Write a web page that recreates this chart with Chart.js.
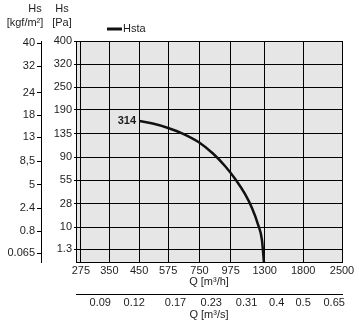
<!DOCTYPE html>
<html>
<head>
<meta charset="utf-8">
<script src="https://cdn.jsdelivr.net/npm/chart.js@4.4.1/dist/chart.umd.min.js"></script>
<style>
  html, body { margin: 0; padding: 0; background: #fff; }
  #wrap { width: 359px; height: 326px; position: relative; }
</style>
</head>
<body>
<div id="wrap"><canvas id="c"></canvas></div>
<script>
// Airflow ticks, m³/h (logarithmic axis)
const Q_H_TICKS = [275, 350, 450, 575, 750, 975, 1300, 1800, 2500];
// The same axis in m³/s
const Q_S_TICKS = [0.09, 0.12, 0.17, 0.23, 0.31, 0.4, 0.5, 0.65];
// Static pressure ticks, Pa (square-root axis)
const PA_TICKS = [1.3, 10, 28, 55, 90, 135, 190, 250, 320, 400];
// Static pressure ticks, kgf/m²
const KGF_TICKS = [0.065, 0.8, 2.4, 5, 8.5, 13, 18, 24, 32, 40];
const KGF_LABELS = ['0.065', '0.8', '2.4', '5', '8,5', '13', '18', '24', '32', '40'];

// Hsta curve: airflow (m³/h) and static pressure (Pa)
const FLOW = [450, 505, 575, 653, 748, 840, 930, 1020, 1101, 1168, 1228, 1271, 1292];
const HSTA = [162.8, 156.9, 147.1, 134.6, 117.0, 96.4, 75.5, 55.1, 37.9, 23.9, 11.8, 3.96, 0];
const CURVE_TAG = '314';

const PA_PER_KGF = 9.80665;
const Q_MIN = 264, Q_MAX = 2500;
const PA_MAX = 400;

const FONT = '"Liberation Sans", Arial, Helvetica, sans-serif';
const INK = '#1e1e1e';
Chart.defaults.font.family = FONT;
Chart.defaults.font.size = 11;
Chart.defaults.color = INK;

// Square-root value axis (pressure grows with the square of airflow)
class SqrtScale extends Chart.LinearScale {
  getPixelForValue(value) {
    if (value === null || value === undefined) return NaN;
    const lo = Math.sqrt(this.min), hi = Math.sqrt(this.max);
    return this.getPixelForDecimal((Math.sqrt(Math.max(0, value)) - lo) / (hi - lo));
  }
  getValueForPixel(pixel) {
    const lo = Math.sqrt(this.min), hi = Math.sqrt(this.max);
    const r = lo + this.getDecimalForPixel(pixel) * (hi - lo);
    return r * r;
  }
}
SqrtScale.id = 'sqrt';
SqrtScale.defaults = Chart.LinearScale.defaults;
Chart.register(SqrtScale);

const fixedTicks = list => scale => { scale.ticks = list.map(v => ({ value: v })); };

const decorations = {
  id: 'decorations',
  beforeDraw(chart) {
    const { ctx, chartArea: a } = chart;
    ctx.save();
    ctx.fillStyle = '#e6e6e6';
    ctx.fillRect(a.left, a.top, a.right - a.left, a.bottom - a.top);
    ctx.restore();
  },
  afterDraw(chart) {
    const { ctx } = chart;
    const ds = chart.data.datasets[0];
    const first = chart.getDatasetMeta(0).data[0];
    ctx.save();
    ctx.fillStyle = INK;
    ctx.font = '11px ' + FONT;
    ctx.textBaseline = 'middle';

    // axis headings above the two pressure scales
    ctx.textAlign = 'center';
    ctx.fillText('Hs', 35, 9);
    ctx.fillText('[kgf/m²]', 25, 23);
    ctx.fillText('Hs', 62, 9);
    ctx.fillText('[Pa]', 62, 23);

    // legend
    ctx.strokeStyle = ds.borderColor;
    ctx.lineWidth = 3;
    ctx.beginPath();
    ctx.moveTo(107, 29);
    ctx.lineTo(122, 29);
    ctx.stroke();
    ctx.textAlign = 'left';
    ctx.fillText(ds.label, 123, 29);

    // curve tag at the start of the line
    ctx.font = 'bold 11px ' + FONT;
    ctx.textAlign = 'right';
    ctx.fillText(CURVE_TAG, first.x - 3, first.y);
    ctx.restore();
  }
};

new Chart(document.getElementById('c'), {
  type: 'line',
  data: {
    datasets: [{
      label: 'Hsta',
      data: FLOW.map((q, i) => ({ x: q, y: HSTA[i] })),
      borderColor: '#111',
      borderWidth: 2.5,
      pointRadius: 0,
      cubicInterpolationMode: 'monotone',
      xAxisID: 'x',
      yAxisID: 'y'
    }]
  },
  options: {
    responsive: true,
    maintainAspectRatio: false,
    animation: false,
    layout: { padding: { left: 0, top: 41, right: 17, bottom: 0 } },
    plugins: { legend: { display: false }, tooltip: { enabled: false } },
    scales: {
      x: {
        type: 'logarithmic',
        position: 'bottom',
        min: Q_MIN, max: Q_MAX,
        afterBuildTicks: fixedTicks(Q_H_TICKS),
        afterFit: s => { s.height = 32; },
        ticks: { autoSkip: false, maxRotation: 0, padding: 2, callback: v => String(v) },
        grid: { color: '#000', lineWidth: 1, drawTicks: false },
        border: { display: true, color: '#000', width: 1 },
        title: { display: true, text: 'Q [m³/h]', padding: { top: 0, bottom: 5 } }
      },
      x2: {
        type: 'logarithmic',
        position: 'bottom',
        min: Q_MIN / 3600, max: Q_MAX / 3600,
        afterBuildTicks: fixedTicks(Q_S_TICKS),
        afterFit: s => { s.height = 32; },
        ticks: { autoSkip: false, maxRotation: 0, padding: 2, callback: v => String(v) },
        grid: { drawOnChartArea: false, drawTicks: false },
        border: { display: true, color: '#000', width: 1 },
        title: { display: true, text: 'Q [m³/s]', padding: { top: 0, bottom: 4 } }
      },
      y: {
        type: 'sqrt',
        position: 'left',
        min: 0, max: PA_MAX,
        afterBuildTicks: fixedTicks(PA_TICKS),
        afterFit: s => { s.width = 35; },
        ticks: { autoSkip: false, padding: 2, callback: v => String(v) },
        grid: { color: '#000', lineWidth: 1, drawTicks: true, tickLength: 2 },
        border: { display: true, color: '#000', width: 1 }
      },
      y2: {
        type: 'sqrt',
        position: 'left',
        min: 0, max: PA_MAX / PA_PER_KGF,
        afterBuildTicks: fixedTicks(KGF_TICKS),
        afterFit: s => { s.width = 41; },
        ticks: { autoSkip: false, padding: 2, callback: (v, i) => KGF_LABELS[i] },
        grid: { drawOnChartArea: false, color: '#000', drawTicks: true, tickLength: 4 },
        border: { display: true, color: '#000', width: 1 }
      }
    }
  },
  plugins: [decorations]
});
</script>
</body>
</html>
